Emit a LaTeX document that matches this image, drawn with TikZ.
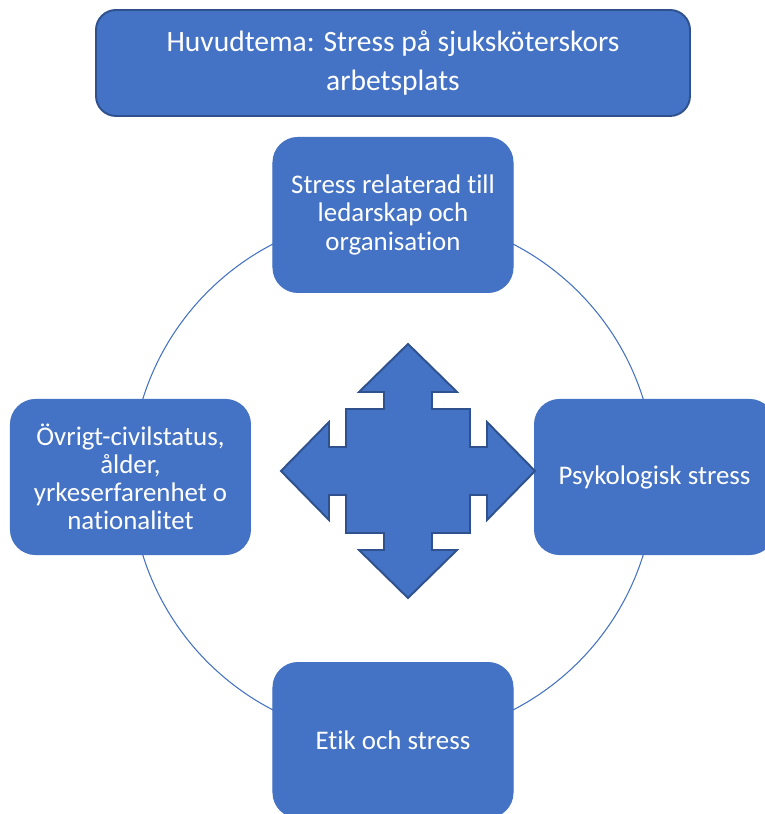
\documentclass[tikz,border=0pt]{standalone}
\usepackage{fontspec}
\setmainfont{Carlito}[Ligatures=NoCommon]
\usepackage{tikz}
\usetikzlibrary{positioning}

\definecolor{boxblue}{HTML}{4472C4}
\definecolor{edgeblue}{HTML}{2F528F}

\tikzset{
  theme/.style={draw=boxblue, fill=boxblue, text=white, rounded corners=0.5cm, minimum width=4.8cm, minimum height=3.1cm, align=center, font=\fontsize{15.3}{16}\selectfont, line width=0.6pt},
}

\begin{document}
\begin{tikzpicture}[]
    \clip (-7.86,-6.74) rectangle (7.44,9.54);
    \useasboundingbox (-7.86,-6.74) rectangle (7.44,9.54);
    \fill[white] (-7.86,-6.74) rectangle (7.44,9.54);

    \coordinate (hub) at (0,0);
    \draw[boxblue, line width=0.6pt] (hub) circle (5.24);

    \node (ledarskap) [theme, above=3.68 of hub] {Stress relaterad till \\ ledarskap och \\ organisation};
    \node (psykologisk) [theme, right=2.82 of hub] {Psykologisk stress};
    \node (etik) [theme, below=3.7 of hub] {Etik och stress};
    \node (ovrigt) [theme, left=2.84 of hub] {Övrigt-civilstatus, \\ ålder, \\ yrkeserfarenhet o \\ nationalitet};

    \node (huvudtema) [draw=edgeblue, fill=boxblue, text=white, rounded corners=0.4cm, line width=1.1pt, minimum width=11.88cm, minimum height=2.12cm, align=center, font=\fontsize{16.8}{22}\selectfont, above=0.4 of ledarskap] {Huvudtema: Stress på sjuksköterskors \\ arbetsplats};

    % four-way arrow in the middle
    \coordinate (kors) at (0.3,0.12);
    \draw[edgeblue, fill=boxblue, line width=1.1pt, shift={(kors)}, x=0.02cm, y=0.02cm]
      (0,127) -- (49,79) -- (24,79) -- (24,62) -- (62,62) -- (62,24) -- (79,24) -- (79,49)
      -- (127,0) -- (79,-49) -- (79,-24) -- (62,-24) -- (62,-62) -- (24,-62) -- (24,-79) -- (49,-79)
      -- (0,-127) -- (-49,-79) -- (-24,-79) -- (-24,-62) -- (-62,-62) -- (-62,-24) -- (-79,-24) -- (-79,-49)
      -- (-127,0) -- (-79,49) -- (-79,24) -- (-62,24) -- (-62,62) -- (-24,62) -- (-24,79) -- (-49,79) -- cycle;
\end{tikzpicture}
\end{document}
